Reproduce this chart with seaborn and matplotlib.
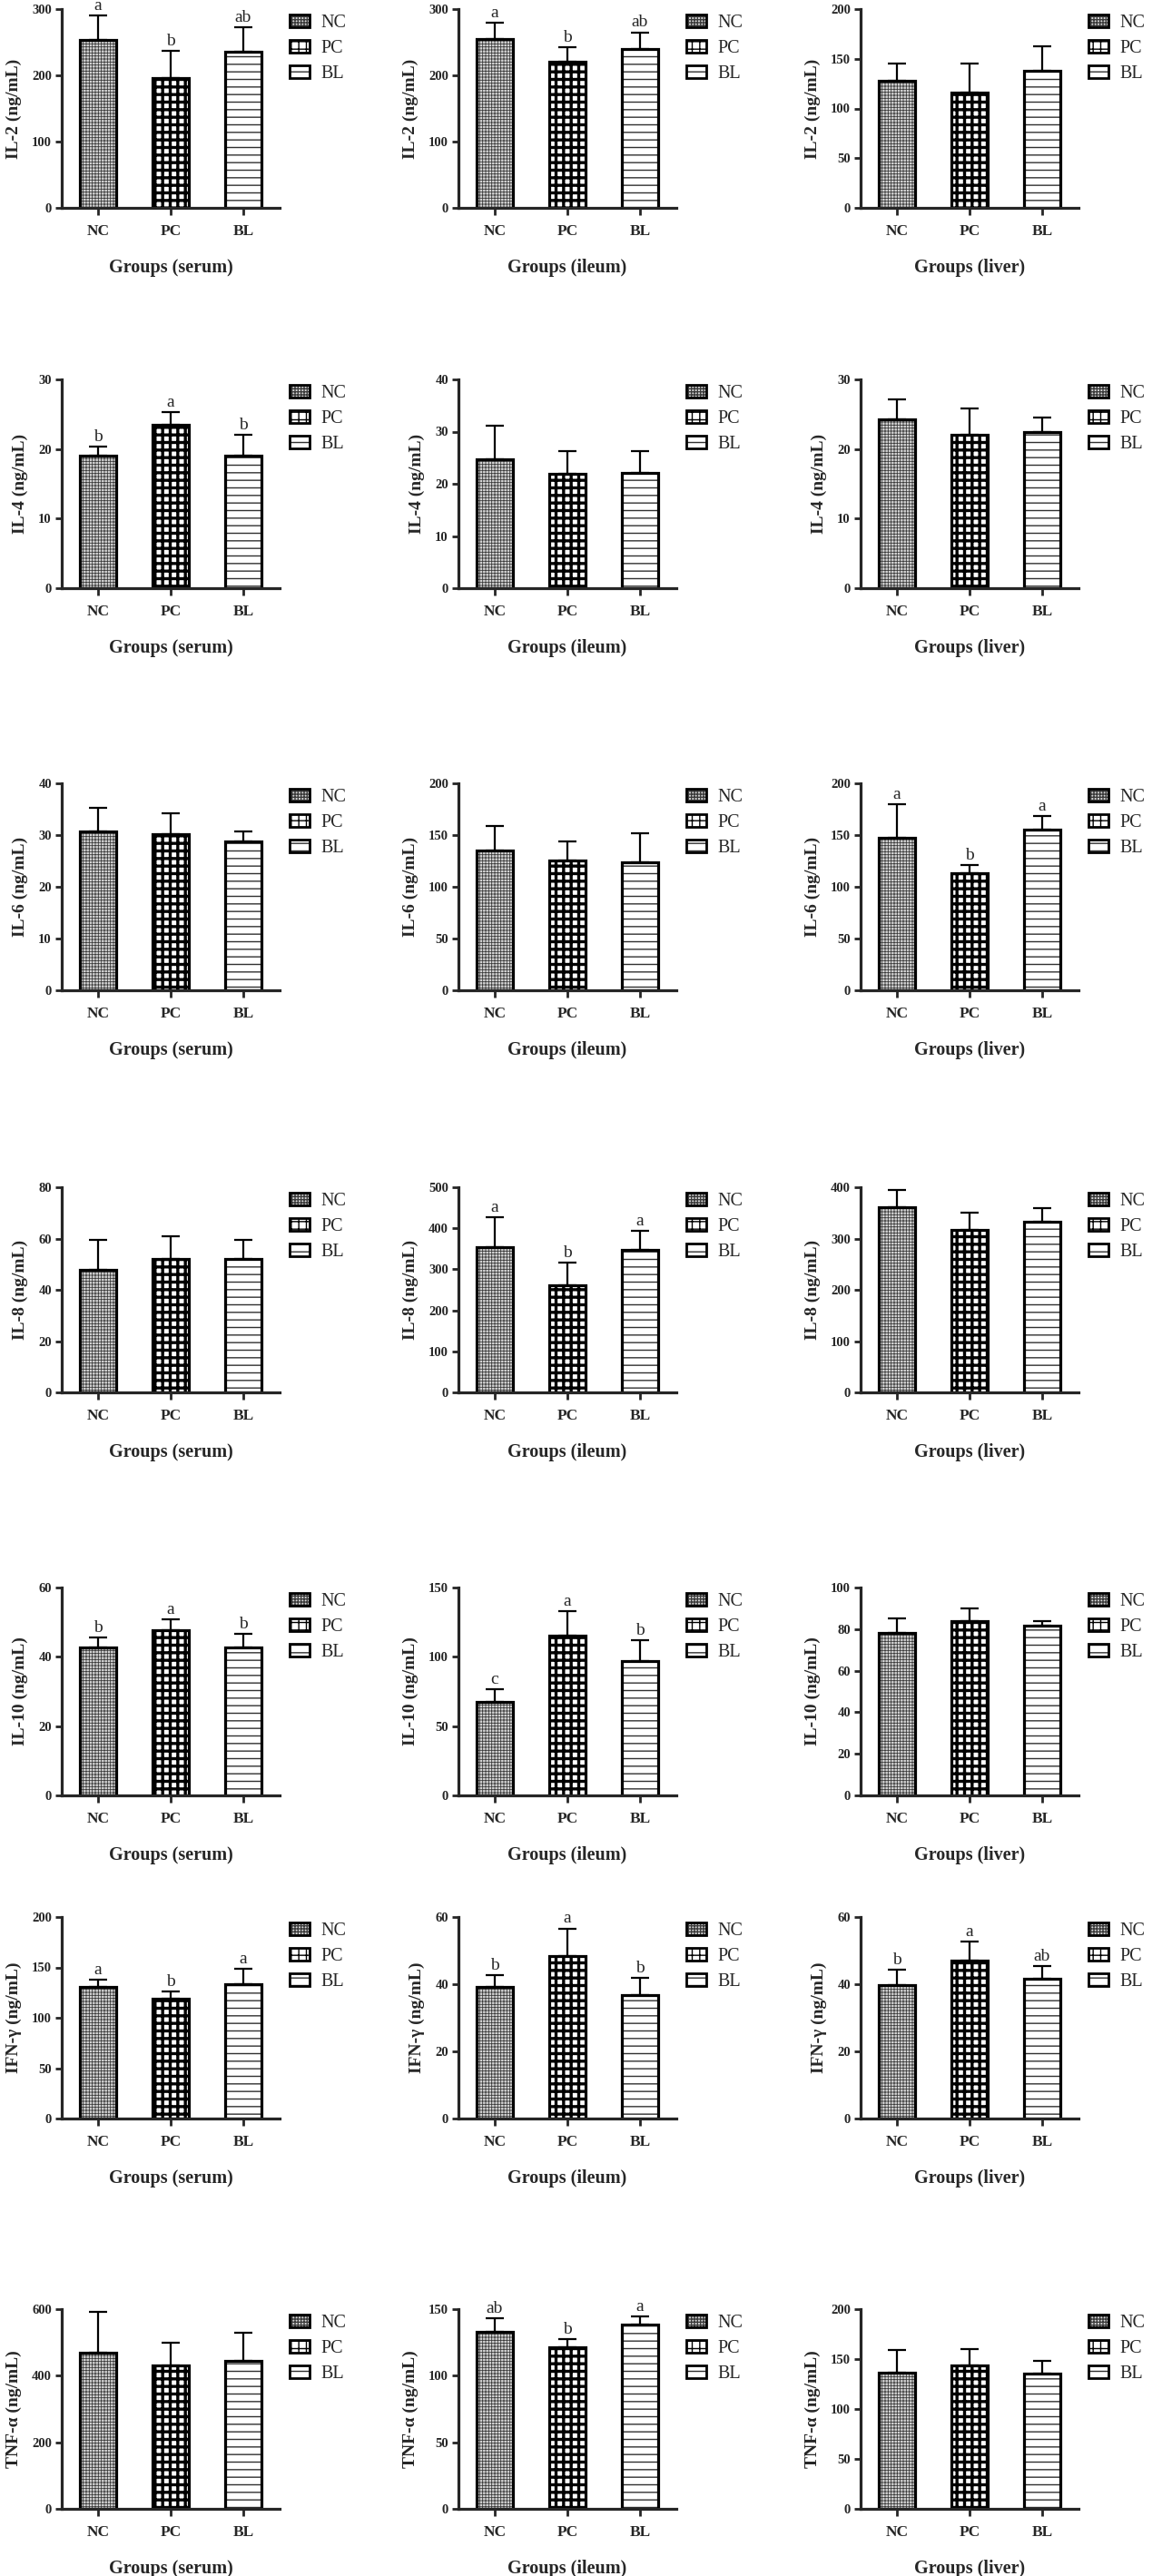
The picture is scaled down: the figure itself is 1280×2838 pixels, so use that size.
import numpy as np
import matplotlib
matplotlib.use("Agg")
import matplotlib.pyplot as plt
from matplotlib.patches import Patch
import seaborn as sns

# ── Data (mean and upper SD) ─────────────────────────────────────────────────
GROUPS = ["NC", "PC", "BL"]
TISSUES = ["serum", "ileum", "liver"]

IL2_MEAN = [[253, 196, 235], [255, 220, 240], [128, 116, 138]]
IL2_SD = [[37, 41, 37], [24, 22, 25], [17, 29, 25]]
IL2_LETTERS = [["a", "b", "ab"], ["a", "b", "ab"], None]
IL2_YMAX = [300, 300, 200]
IL2_STEP = [100, 100, 50]

IL4_MEAN = [[19.0, 23.5, 19.0], [24.7, 21.9, 22.1], [24.2, 22.0, 22.5]]
IL4_SD = [[1.3, 1.8, 3.0], [6.4, 4.4, 4.2], [2.9, 3.8, 2.0]]
IL4_LETTERS = [["b", "a", "b"], None, None]
IL4_YMAX = [30, 40, 30]
IL4_STEP = [10, 10, 10]

IL6_MEAN = [[30.7, 30.2, 28.7], [135.5, 125.5, 124.0], [147.5, 113.0, 155.7]]
IL6_SD = [[4.5, 4.0, 2.0], [23.0, 18.5, 28.0], [32.5, 8.0, 12.9]]
IL6_LETTERS = [None, None, ["a", "b", "a"]]
IL6_YMAX = [40, 200, 200]
IL6_STEP = [10, 50, 50]

IL8_MEAN = [[47.8, 52.2, 52.2], [355, 261, 348], [361, 317, 333]]
IL8_SD = [[11.7, 8.7, 7.2], [72, 55, 46], [34, 34, 26]]
IL8_LETTERS = [None, ["a", "b", "a"], None]
IL8_YMAX = [80, 500, 400]
IL8_STEP = [20, 100, 100]

IL10_MEAN = [[42.6, 47.7, 42.6], [67.6, 115.2, 97.0], [78.1, 83.8, 81.6]]
IL10_SD = [[2.9, 3.0, 4.1], [8.9, 17.8, 15.0], [6.9, 6.2, 2.2]]
IL10_LETTERS = [["b", "a", "b"], ["c", "a", "b"], None]
IL10_YMAX = [60, 150, 100]
IL10_STEP = [20, 50, 20]

IFN_MEAN = [[130.3, 118.6, 133.6], [39.3, 48.5, 36.8], [39.7, 47.1, 41.5]]
IFN_SD = [[7.2, 7.4, 15.0], [3.4, 8.1, 5.0], [4.7, 5.6, 3.9]]
IFN_LETTERS = [["a", "b", "a"], ["b", "a", "b"], ["b", "a", "ab"]]
IFN_YMAX = [200, 60, 60]
IFN_STEP = [50, 20, 20]

TNF_MEAN = [[469, 430, 444], [132.9, 121.2, 138.1], [136.4, 143.9, 135.5]]
TNF_SD = [[122, 70, 85], [10.3, 6.2, 6.5], [23.1, 15.9, 12.5]]
TNF_LETTERS = [None, ["ab", "b", "a"], None]
TNF_YMAX = [600, 150, 200]
TNF_STEP = [200, 50, 50]

PANELS = [
    ("IL-2", IL2_MEAN, IL2_SD, IL2_LETTERS, IL2_YMAX, IL2_STEP),
    ("IL-4", IL4_MEAN, IL4_SD, IL4_LETTERS, IL4_YMAX, IL4_STEP),
    ("IL-6", IL6_MEAN, IL6_SD, IL6_LETTERS, IL6_YMAX, IL6_STEP),
    ("IL-8", IL8_MEAN, IL8_SD, IL8_LETTERS, IL8_YMAX, IL8_STEP),
    ("IL-10", IL10_MEAN, IL10_SD, IL10_LETTERS, IL10_YMAX, IL10_STEP),
    ("IFN-γ", IFN_MEAN, IFN_SD, IFN_LETTERS, IFN_YMAX, IFN_STEP),
    ("TNF-α", TNF_MEAN, TNF_SD, TNF_LETTERS, TNF_YMAX, TNF_STEP),
]

# bar fill styles: (facecolor, hatch colour, hatch, hatch linewidth)
STYLE = {
    "NC": ("#d4d4d4", "#3a3a3a", "+++++", 0.6),
    "PC": ("white", "black", "++", 2.4),
    "BL": ("white", "#303030", "--", 1.0),
}

# ── Theme ────────────────────────────────────────────────────────────────────
sns.set_style("ticks")
plt.rcParams["font.family"] = ["Liberation Serif", "DejaVu Serif"]
plt.rcParams["font.weight"] = "bold"
plt.rcParams["axes.labelweight"] = "bold"
plt.rcParams["hatch.linewidth"] = 1.0

W, H = 1280, 2838
fig = plt.figure(figsize=(W / 100, H / 100), dpi=100)

row_top = [10, 418, 863, 1308, 1749, 2112, 2544]
row_bot = [229, 648, 1091, 1534, 1978, 2334, 2764]
col_left = [68, 505, 948]
col_w = 240


def draw_panel(ax, name, tissue, mean, sd, letters, ymax, step):
    x = np.arange(len(GROUPS))
    sns.barplot(x=GROUPS, y=mean, ax=ax, width=0.5, errorbar=None,
                color="white", saturation=1, linewidth=0)
    for patch, g in zip(ax.patches, GROUPS):
        fc, hc, hatch, hlw = STYLE[g]
        patch.set_facecolor(fc)
        patch.set_edgecolor(hc)
        patch.set_hatch(hatch)
        if hasattr(patch, "set_hatch_linewidth"):
            patch.set_hatch_linewidth(hlw)
    sns.barplot(x=GROUPS, y=mean, ax=ax, width=0.5, errorbar=None,
                fill=False, color="black", linewidth=2.3)

    ax.errorbar(x, mean, yerr=[np.zeros(len(x)), sd], fmt="none",
                ecolor="black", elinewidth=1.6, capsize=7, capthick=1.6,
                zorder=3)
    if letters:
        for xi, m, s, lt in zip(x, mean, sd, letters):
            ax.annotate(lt, (xi, m + s), xytext=(0, 1.5),
                        textcoords="offset points", ha="center", va="bottom",
                        fontsize=14, fontweight="normal", annotation_clip=False)

    ax.set_xlim(-0.5, 2.5)
    ax.set_ylim(0, ymax)
    ax.set_yticks(np.arange(0, ymax + step / 2, step))
    sns.despine(ax=ax)
    for side in ("left", "bottom"):
        ax.spines[side].set_linewidth(2.3)
    ax.tick_params(axis="y", length=5, width=2, labelsize=10.5, pad=3)
    ax.tick_params(axis="x", length=6, width=2, labelsize=12.5, pad=7)
    ax.set_ylabel(f"{name} (ng/mL)", fontsize=14, labelpad=8)
    ax.set_xlabel(f"Groups ({tissue})", fontsize=14.5, labelpad=16)

    handles = []
    for g in GROUPS:
        fc, hc, hatch, hlw = STYLE[g]
        handles.append((Patch(facecolor=fc, edgecolor=hc, hatch=hatch, linewidth=0),
                        Patch(fill=False, edgecolor="black", linewidth=2)))
    ax.legend(handles, GROUPS, loc="upper left", bbox_to_anchor=(1.02, 1.0),
              frameon=False, prop={"weight": "normal", "size": 14.5},
              handlelength=1.1, handleheight=0.65, handletextpad=0.6,
              labelspacing=0.45, borderaxespad=0, borderpad=0.3)


for r, (name, means, sds, letters, ymaxs, steps) in enumerate(PANELS):
    for c, tissue in enumerate(TISSUES):
        ax = fig.add_axes([col_left[c] / W, 1 - row_bot[r] / H,
                           col_w / W, (row_bot[r] - row_top[r]) / H])
        draw_panel(ax, name, tissue, means[c], sds[c], letters[c],
                   ymaxs[c], steps[c])

fig.savefig("out.png", dpi=100)
